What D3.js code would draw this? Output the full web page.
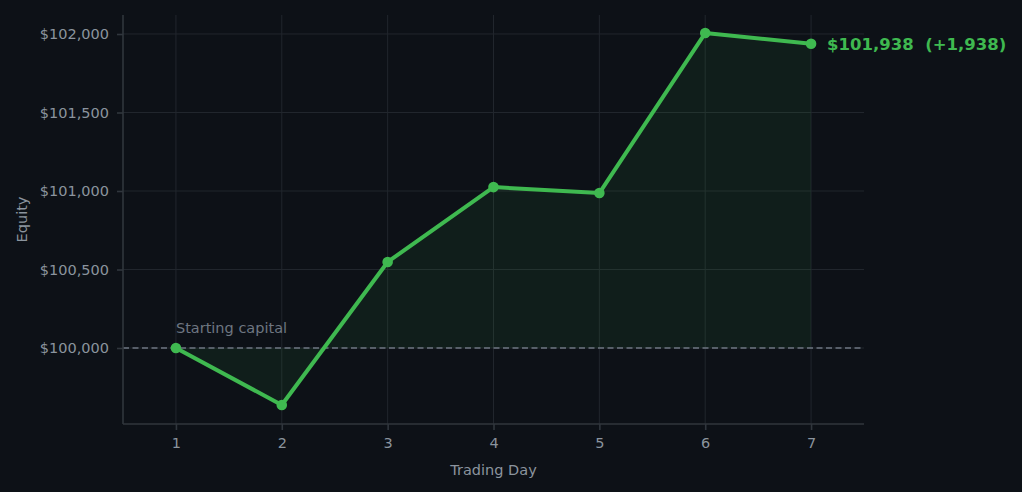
<!DOCTYPE html>
<html>
<head>
<meta charset="utf-8">
<script src="https://cdn.jsdelivr.net/npm/d3@7"></script>
<style>
  html, body { margin: 0; padding: 0; background: #0d1117; }
  svg { display: block; font-family: "DejaVu Sans", sans-serif; }
</style>
</head>
<body>
<svg id="chart" width="1022" height="492"></svg>
<script>
// data
const days = [1, 2, 3, 4, 5, 6, 7];
const equity = [100000, 99637, 100548, 101025, 100987, 102006, 101938];
const startingCapital = 100000;
const yTicks = [100000, 100500, 101000, 101500, 102000];

const W = 1022, H = 492;
const m = { left: 123, right: 158, top: 15, bottom: 68 };
const innerW = W - m.left - m.right;
const innerH = H - m.top - m.bottom;

const col = {
    bg: '#0d1117',
    grid: '#21262d',
    spine: '#30363d',
    text: '#8b949e',
    muted: '#6e7681',
    green: '#3fb950'
};

const svg = d3.select('#chart');
svg.append('rect').attr('width', W).attr('height', H).attr('fill', col.bg);

const x = d3.scaleLinear().domain([0.5, 7.5]).range([m.left, m.left + innerW]);
const y = d3.scaleLinear().domain([99516, 102121]).range([m.top + innerH, m.top]);

// grid
const g = svg.append('g');
g.selectAll('.vgrid').data(days).enter().append('line')
    .attr('x1', d => x(d)).attr('x2', d => x(d))
    .attr('y1', m.top).attr('y2', m.top + innerH)
    .attr('stroke', col.grid).attr('stroke-width', 1);
g.selectAll('.hgrid').data(yTicks).enter().append('line')
    .attr('x1', m.left).attr('x2', m.left + innerW)
    .attr('y1', d => y(d)).attr('y2', d => y(d))
    .attr('stroke', col.grid).attr('stroke-width', 1);

// fill between line and starting capital
const pts = days.map((d, i) => ({ day: d, v: equity[i] }));
const area = d3.area()
    .x(d => x(d.day))
    .y0(y(startingCapital))
    .y1(d => y(d.v));
svg.append('path').datum(pts)
    .attr('d', area)
    .attr('fill', col.green).attr('fill-opacity', 0.08);

// starting capital line
svg.append('line')
    .attr('x1', m.left).attr('x2', m.left + innerW)
    .attr('y1', y(startingCapital)).attr('y2', y(startingCapital))
    .attr('stroke', col.muted).attr('stroke-width', 1.6)
    .attr('stroke-dasharray', '6,3.5');
svg.append('text')
    .attr('x', x(1)).attr('y', y(startingCapital) - 15)
    .attr('fill', col.muted).attr('font-size', 14.5)
    .text('Starting capital');

// axes
const yAxis = d3.axisLeft(y).tickValues(yTicks).tickSize(6).tickPadding(8)
    .tickFormat(d => '$' + d3.format(',')(d));
const xAxis = d3.axisBottom(x).tickValues(days).tickSize(6).tickPadding(8)
    .tickFormat(d3.format('d'));

const ya = svg.append('g').attr('transform', `translate(${m.left},0)`).call(yAxis);
const xa = svg.append('g').attr('transform', `translate(0,${m.top + innerH})`).call(xAxis);
[ya, xa].forEach(a => {
    a.select('.domain').remove();
    a.selectAll('.tick line').attr('stroke', col.spine).attr('stroke-width', 1.6);
    a.selectAll('.tick text').attr('fill', col.text).attr('font-size', 14.5)
        .attr('font-family', '"DejaVu Sans", sans-serif');
});

// spines
svg.append('line')
    .attr('x1', m.left).attr('x2', m.left)
    .attr('y1', m.top).attr('y2', m.top + innerH)
    .attr('stroke', col.spine).attr('stroke-width', 1.6);
svg.append('line')
    .attr('x1', m.left).attr('x2', m.left + innerW)
    .attr('y1', m.top + innerH).attr('y2', m.top + innerH)
    .attr('stroke', col.spine).attr('stroke-width', 1.6);

// line + markers
const line = d3.line().x(d => x(d.day)).y(d => y(d.v));
svg.append('path').datum(pts)
    .attr('d', line)
    .attr('fill', 'none').attr('stroke', col.green)
    .attr('stroke-width', 4).attr('stroke-linejoin', 'round');
svg.selectAll('.dot').data(pts).enter().append('circle')
    .attr('cx', d => x(d.day)).attr('cy', d => y(d.v))
    .attr('r', 5.3).attr('fill', col.green);

// end label
const last = pts[pts.length - 1];
svg.append('text')
    .attr('x', x(last.day) + 16).attr('y', y(last.v))
    .attr('dy', '0.35em')
    .attr('fill', col.green).attr('font-size', 16.5).attr('font-weight', 'bold')
    .attr('xml:space', 'preserve')
    .style('white-space', 'pre')
    .text('$' + d3.format(',')(last.v) + '  (+' + d3.format(',')(last.v - startingCapital) + ')');

// axis labels
svg.append('text')
    .attr('x', m.left + innerW / 2).attr('y', H - 17)
    .attr('text-anchor', 'middle')
    .attr('fill', col.text).attr('font-size', 14.5)
    .text('Trading Day');
svg.append('text')
    .attr('transform', `translate(27,${m.top + innerH / 2}) rotate(-90)`)
    .attr('text-anchor', 'middle')
    .attr('fill', col.text).attr('font-size', 14.5)
    .text('Equity');
</script>
</body>
</html>
